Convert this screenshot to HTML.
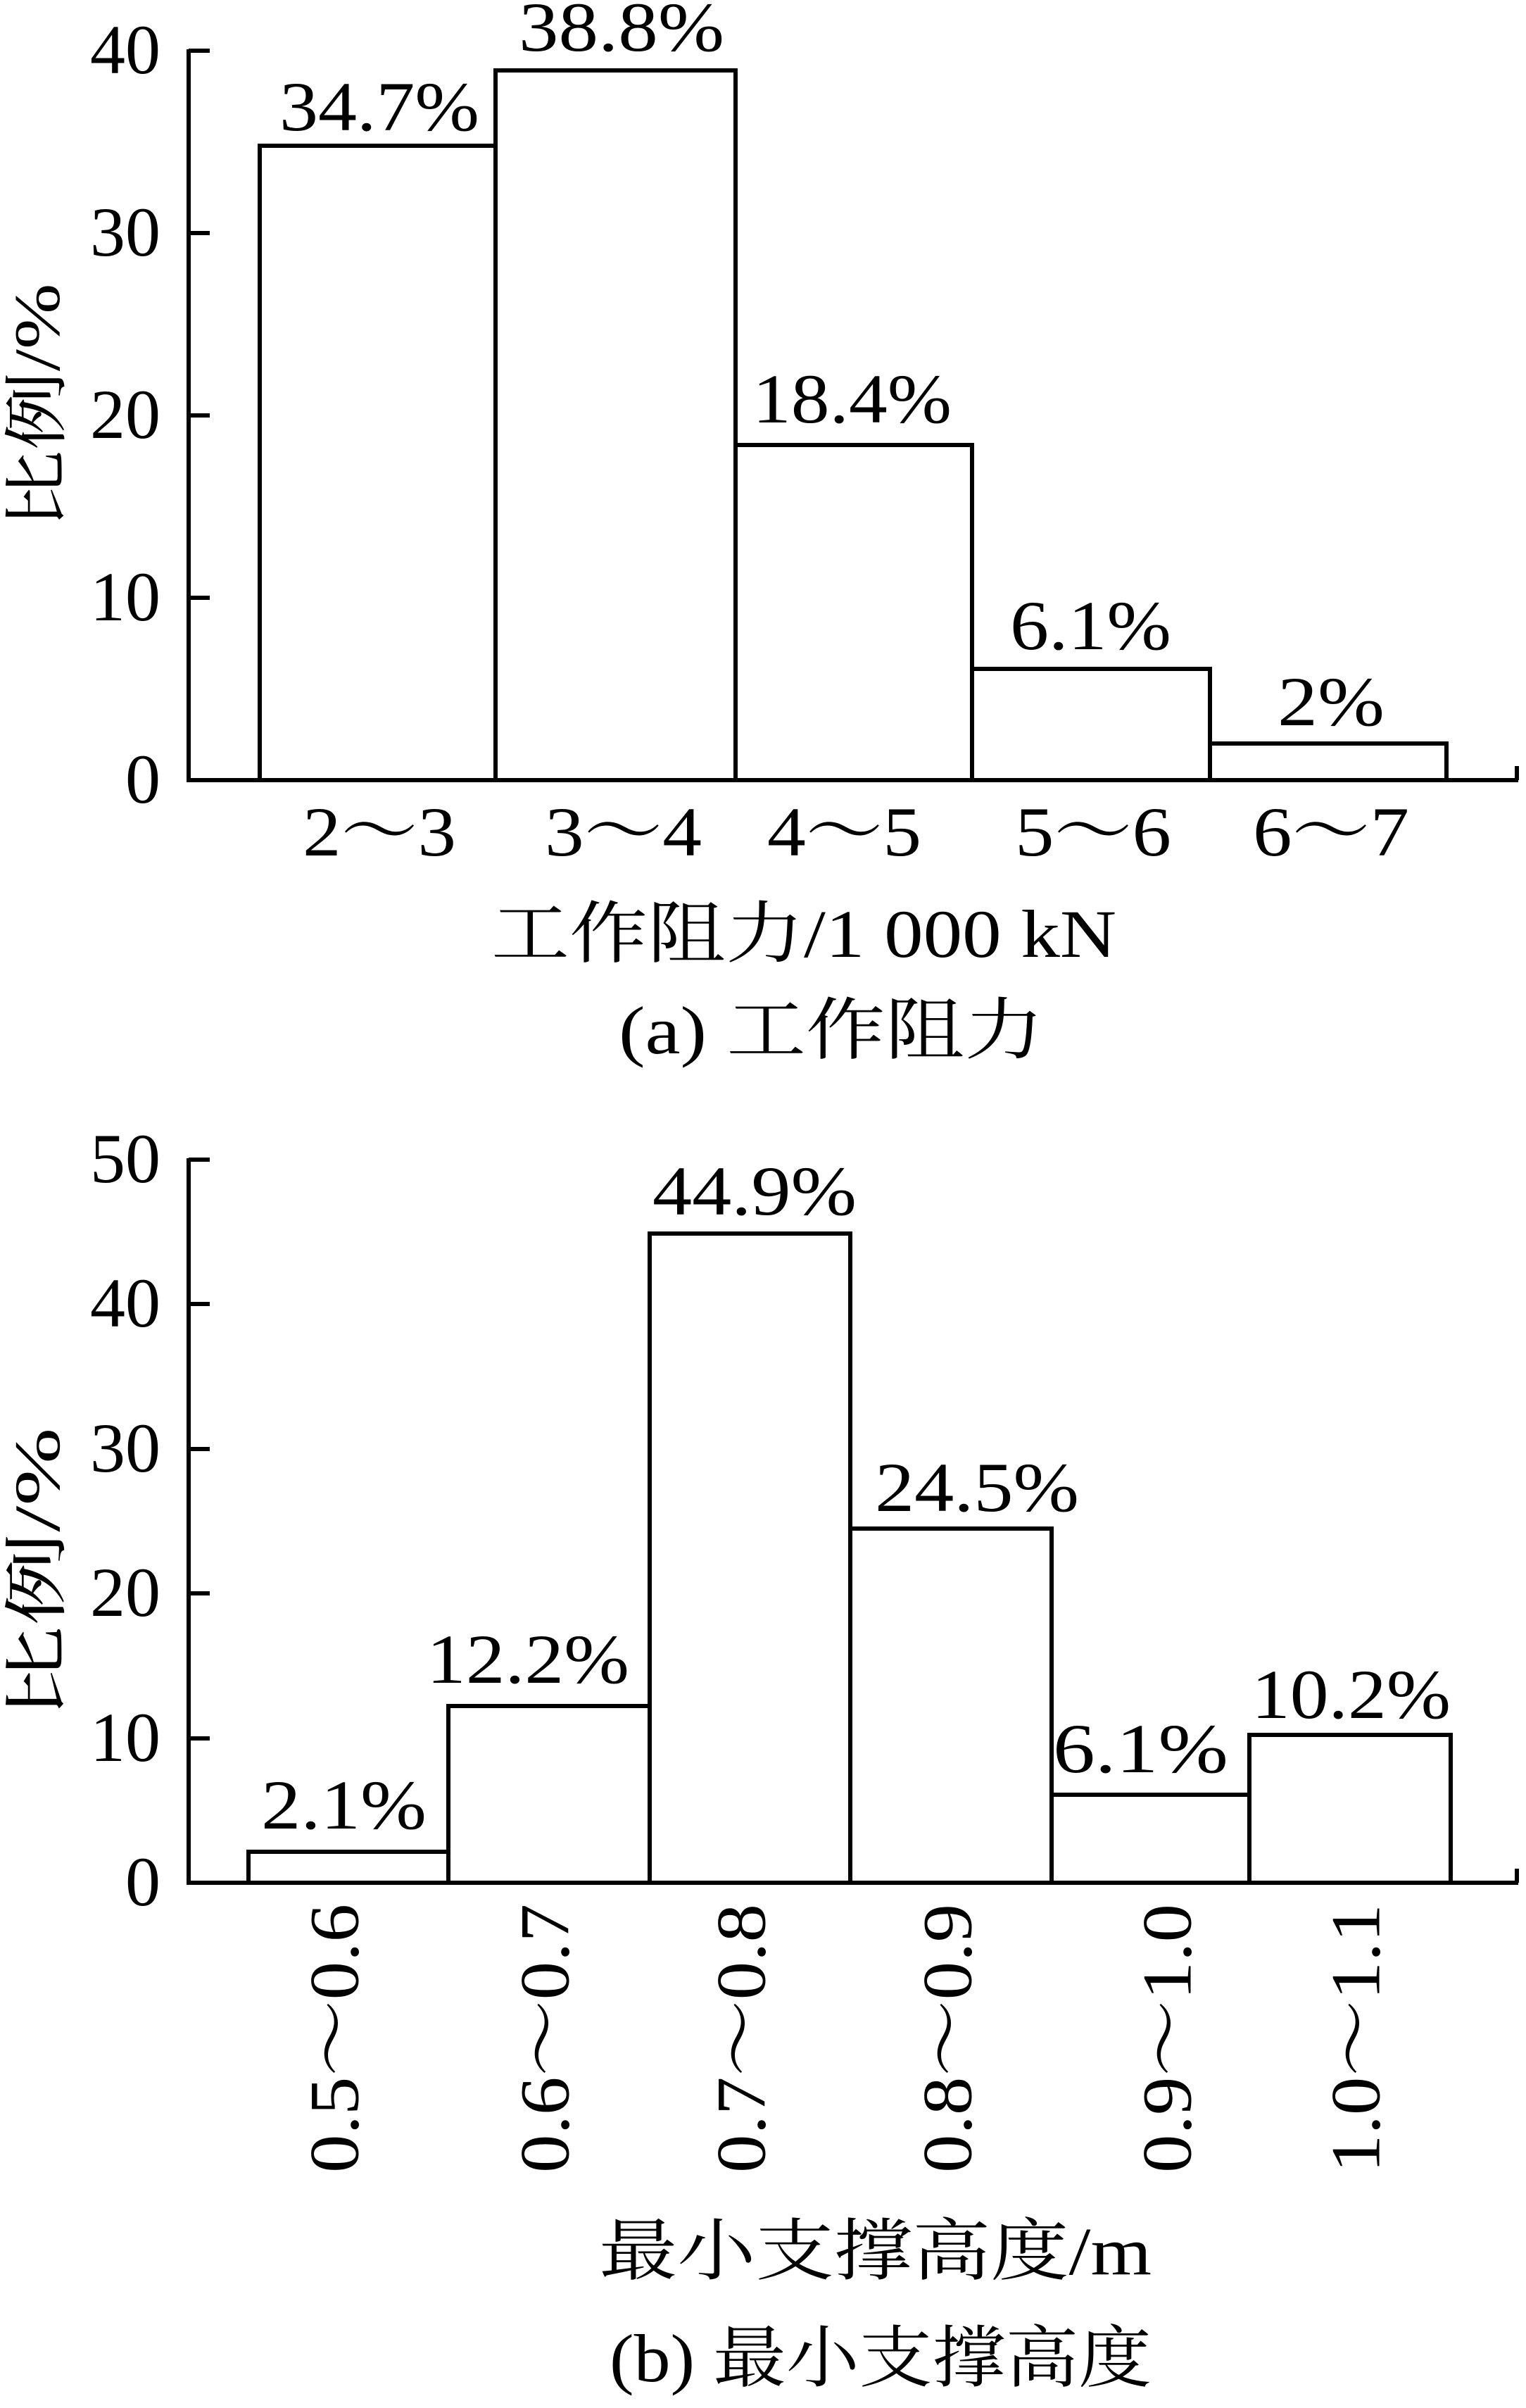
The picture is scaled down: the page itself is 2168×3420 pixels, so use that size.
<!DOCTYPE html>
<html><head><meta charset="utf-8"><style>
html,body{margin:0;padding:0;background:#fff;}
svg{display:block;}
text{font-family:"Liberation Serif","Times New Roman",Times,"Noto Serif CJK SC",serif;fill:#000;}
</style></head><body>
<svg width="2168" height="3420" viewBox="0 0 2168 3420" xmlns="http://www.w3.org/2000/svg" font-family="Liberation Serif, Noto Serif CJK SC, serif">
<g stroke="#000" fill="none" stroke-width="6">
<line x1="268" y1="70" x2="268" y2="1111"/>
<line x1="265" y1="1108" x2="2157" y2="1108"/>
<line x1="2155" y1="1108" x2="2155" y2="1088"/>
<line x1="268" y1="72" x2="298" y2="72"/>
<line x1="268" y1="331" x2="298" y2="331"/>
<line x1="268" y1="590" x2="298" y2="590"/>
<line x1="268" y1="849" x2="298" y2="849"/>
<rect x="369" y="207" width="335" height="901"/>
<rect x="704" y="100" width="341" height="1008"/>
<rect x="1045" y="632" width="336" height="476"/>
<rect x="1381" y="950" width="338" height="158"/>
<rect x="1719" y="1056" width="336" height="52"/>
<line x1="268" y1="1645" x2="268" y2="2677"/>
<line x1="265" y1="2674" x2="2157" y2="2674"/>
<line x1="2155" y1="2674" x2="2155" y2="2654"/>
<line x1="268" y1="1647" x2="298" y2="1647"/>
<line x1="268" y1="1852" x2="298" y2="1852"/>
<line x1="268" y1="2058" x2="298" y2="2058"/>
<line x1="268" y1="2263" x2="298" y2="2263"/>
<line x1="268" y1="2469" x2="298" y2="2469"/>
<rect x="353" y="2630" width="284" height="44"/>
<rect x="637" y="2423" width="286" height="251"/>
<rect x="923" y="1752" width="285" height="922"/>
<rect x="1208" y="2171" width="286" height="503"/>
<rect x="1494" y="2549" width="281" height="125"/>
<rect x="1775" y="2464" width="286" height="210"/>
</g>
<g font-size="100" text-anchor="end">
<text x="228" y="104">40</text>
<text x="228" y="363">30</text>
<text x="228" y="622">20</text>
<text x="228" y="881">10</text>
<text x="228" y="1140">0</text>
</g>
<g font-size="100">
<text x="397" y="185" textLength="284" lengthAdjust="spacingAndGlyphs">34.7%</text>
<text x="737" y="72" textLength="292" lengthAdjust="spacingAndGlyphs">38.8%</text>
<text x="1069" y="600" textLength="283" lengthAdjust="spacingAndGlyphs">18.4%</text>
<text x="1435" y="922" textLength="229" lengthAdjust="spacingAndGlyphs">6.1%</text>
<text x="1815" y="1030" textLength="152" lengthAdjust="spacingAndGlyphs">2%</text>
</g>
<g font-size="100">
<text x="430" y="1215" textLength="218" lengthAdjust="spacingAndGlyphs">2～3</text>
<text x="774" y="1215" textLength="223" lengthAdjust="spacingAndGlyphs">3～4</text>
<text x="1090" y="1215" textLength="219" lengthAdjust="spacingAndGlyphs">4～5</text>
<text x="1442" y="1215" textLength="222" lengthAdjust="spacingAndGlyphs">5～6</text>
<text x="1780" y="1215" textLength="222" lengthAdjust="spacingAndGlyphs">6～7</text>
</g>
<text x="698" y="1359" font-size="96" textLength="888" lengthAdjust="spacingAndGlyphs">工作阻力/1 000 kN</text>
<text x="879" y="1496" font-size="96" textLength="604" lengthAdjust="spacingAndGlyphs">(a) 工作阻力</text>
<text transform="translate(84,577) rotate(-90)" font-size="92" text-anchor="middle" textLength="349" lengthAdjust="spacingAndGlyphs">比例/%</text>
<g font-size="100" text-anchor="end">
<text x="228" y="1679">50</text>
<text x="228" y="1884">40</text>
<text x="228" y="2090">30</text>
<text x="228" y="2295">20</text>
<text x="228" y="2501">10</text>
<text x="228" y="2706">0</text>
</g>
<g font-size="100">
<text x="371" y="2597" textLength="235" lengthAdjust="spacingAndGlyphs">2.1%</text>
<text x="606" y="2390" textLength="288" lengthAdjust="spacingAndGlyphs">12.2%</text>
<text x="927" y="1725" textLength="290" lengthAdjust="spacingAndGlyphs">44.9%</text>
<text x="1243" y="2146" textLength="290" lengthAdjust="spacingAndGlyphs">24.5%</text>
<text x="1496" y="2517" textLength="249" lengthAdjust="spacingAndGlyphs">6.1%</text>
<text x="1778" y="2440" textLength="283" lengthAdjust="spacingAndGlyphs">10.2%</text>
</g>
<g font-size="100" text-anchor="end" dominant-baseline="central">
<text transform="translate(475,2704) rotate(-90)" textLength="382" lengthAdjust="spacingAndGlyphs">0.5～0.6</text>
<text transform="translate(774,2704) rotate(-90)" textLength="382" lengthAdjust="spacingAndGlyphs">0.6～0.7</text>
<text transform="translate(1053,2704) rotate(-90)" textLength="382" lengthAdjust="spacingAndGlyphs">0.7～0.8</text>
<text transform="translate(1346,2704) rotate(-90)" textLength="382" lengthAdjust="spacingAndGlyphs">0.8～0.9</text>
<text transform="translate(1658,2704) rotate(-90)" textLength="382" lengthAdjust="spacingAndGlyphs">0.9～1.0</text>
<text transform="translate(1926,2704) rotate(-90)" textLength="382" lengthAdjust="spacingAndGlyphs">1.0～1.1</text>
</g>
<text x="851" y="3230" font-size="96" textLength="785" lengthAdjust="spacingAndGlyphs">最小支撑高度/m</text>
<text x="866" y="3382" font-size="96" textLength="770" lengthAdjust="spacingAndGlyphs">(b) 最小支撑高度</text>
<text transform="translate(84,2235) rotate(-90)" font-size="92" text-anchor="middle" textLength="415" lengthAdjust="spacingAndGlyphs">比例/%</text>
</svg>
</body></html>
